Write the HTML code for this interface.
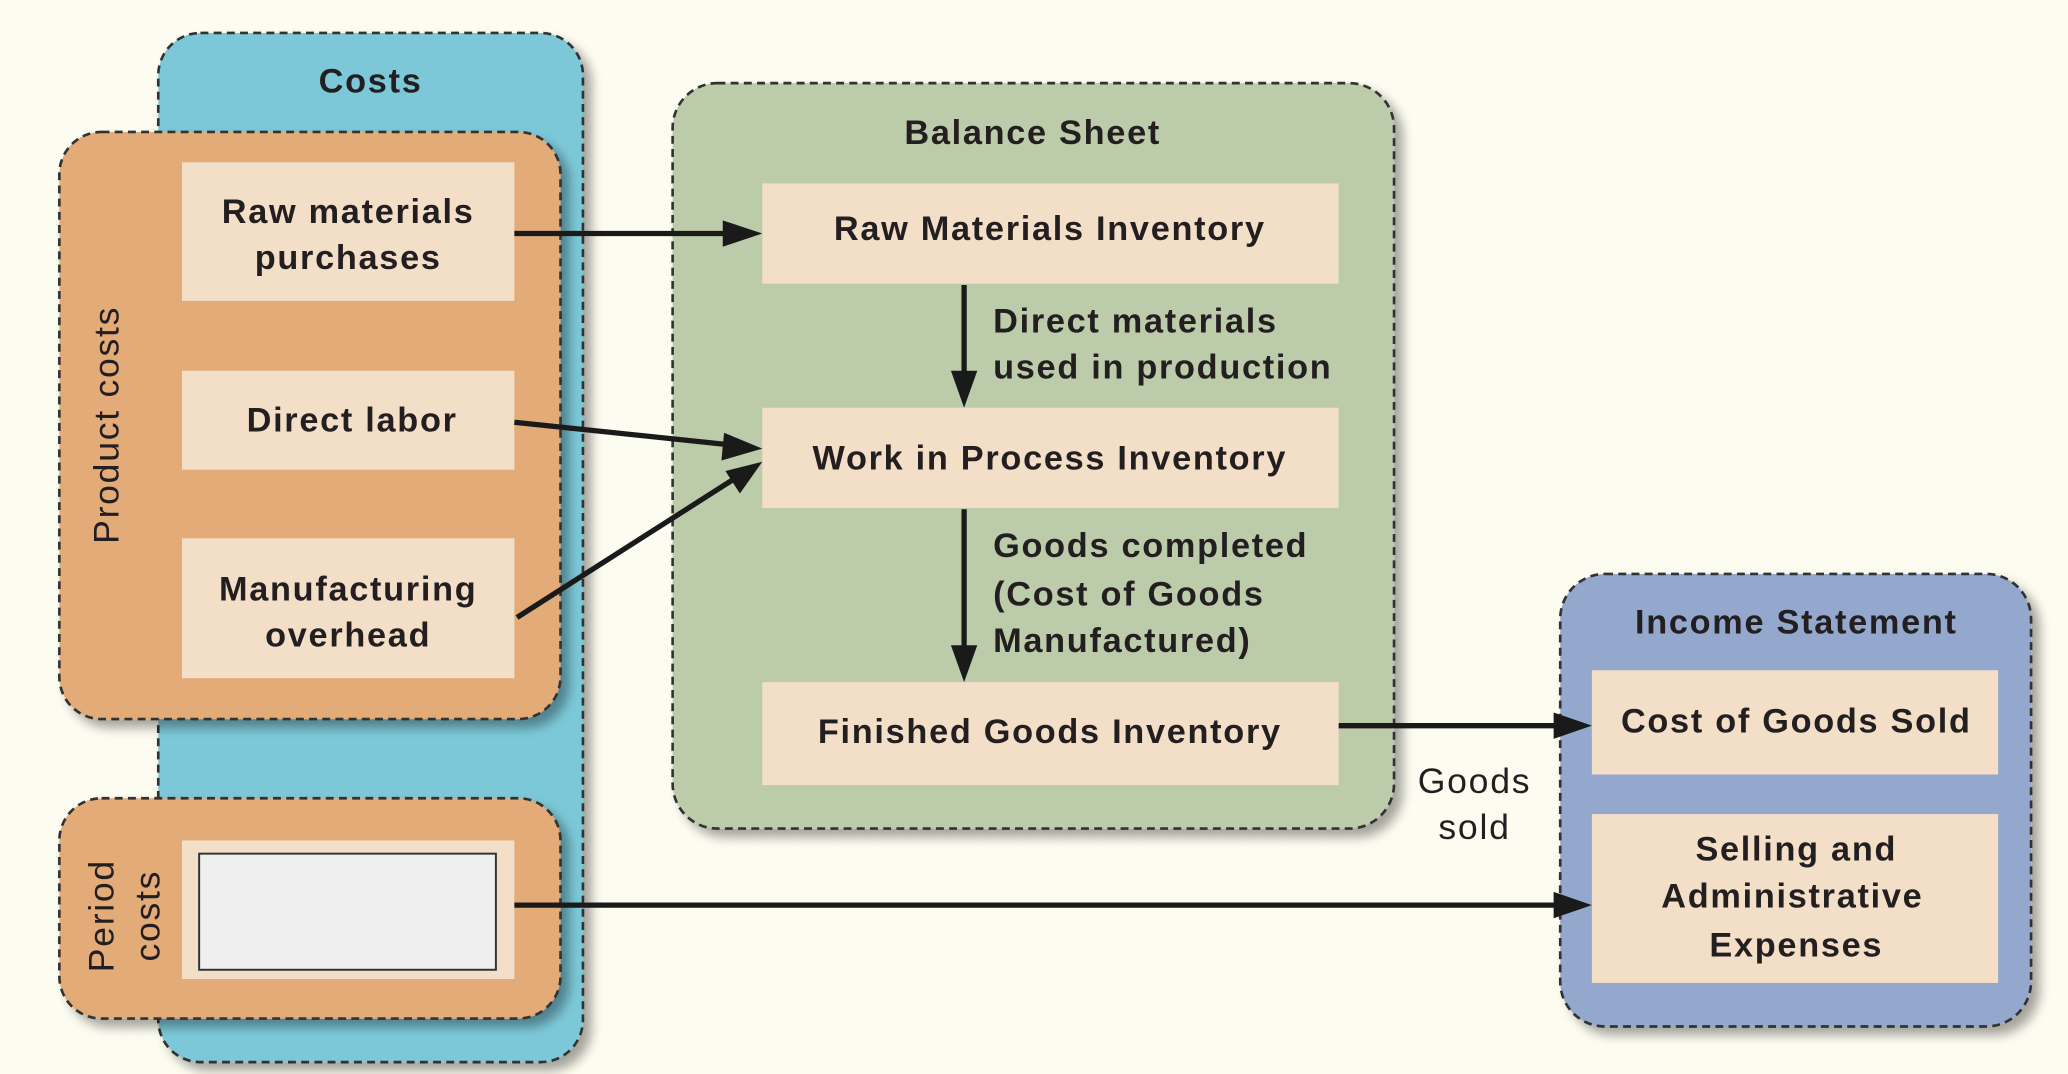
<!DOCTYPE html>
<html><head><meta charset="utf-8"><style>
html,body{margin:0;padding:0;background:#fdfcf0;}
svg{display:block}
text{font-family:"Liberation Sans",Arial,sans-serif;fill:#231f20;}
.b{font-weight:bold;font-size:26px;letter-spacing:1.3px;}
.n{font-size:27px;letter-spacing:1.3px;}
</style></head><body>
<svg width="2068" height="1074" viewBox="0 0 1568 814" preserveAspectRatio="none">
<defs>
<filter id="sh" x="-10%" y="-10%" width="130%" height="130%"><feGaussianBlur in="SourceAlpha" stdDeviation="4"/><feOffset dx="6" dy="6"/><feComponentTransfer><feFuncA type="linear" slope="0.35"/></feComponentTransfer><feMerge><feMergeNode/><feMergeNode in="SourceGraphic"/></feMerge></filter>
</defs>
<rect width="1568" height="814" fill="#fdfcf0"/>
<g stroke="#333" stroke-width="2" stroke-dasharray="6,4">
<rect x="120" y="25" width="322" height="780" rx="32" fill="#7cc8d8" filter="url(#sh)"/>
<rect x="45" y="100" width="380" height="445" rx="32" fill="#e2ab78" filter="url(#sh)"/>
<rect x="45" y="605" width="380" height="167" rx="32" fill="#e2ab78" filter="url(#sh)"/>
<rect x="510" y="63" width="547" height="565" rx="34" fill="#bccbaa" filter="url(#sh)"/>
<rect x="1183" y="435" width="357" height="343" rx="34" fill="#93a8cc" filter="url(#sh)"/>
</g>
<g fill="#f3dfc8">
<rect x="138" y="123" width="252" height="105"/>
<rect x="138" y="281" width="252" height="75"/>
<rect x="138" y="408" width="252" height="106"/>
<rect x="138" y="637" width="252" height="105"/>
<rect x="578" y="139" width="437" height="76"/>
<rect x="578" y="309" width="437" height="76"/>
<rect x="578" y="517" width="437" height="78"/>
<rect x="1207" y="508" width="308" height="79"/>
<rect x="1207" y="617" width="308" height="128"/>
</g>
<rect x="151" y="647" width="225" height="88" fill="#efefef" stroke="#333" stroke-width="1.5"/>
<g stroke="#1a1a1a" stroke-width="4" fill="none">
<line x1="390" y1="177" x2="550" y2="177"/>
<line x1="390" y1="320" x2="552" y2="337"/>
<line x1="392" y1="468" x2="555" y2="364"/>
<line x1="731" y1="216" x2="731" y2="283"/>
<line x1="731" y1="386" x2="731" y2="491"/>
<line x1="1015" y1="550" x2="1180" y2="550"/>
<line x1="390" y1="686" x2="1180" y2="686"/>
</g>
<g fill="#1a1a1a">
<polygon points="578,177 548,167 548,187"/>
<polygon points="578,340 549,328 547,349"/>
<polygon points="578,350 561,374 550,357"/>
<polygon points="731,309 721,281 741,281"/>
<polygon points="731,517 721,489 741,489"/>
<polygon points="1207,550 1178,540 1178,560"/>
<polygon points="1207,686 1178,676 1178,696"/>
</g>
<g class="b" text-anchor="middle">
<text x="281" y="70">Costs</text>
<text x="783" y="109">Balance Sheet</text>
<text x="1362" y="480">Income Statement</text>
<text x="264" y="169">Raw materials</text>
<text x="264" y="204">purchases</text>
<text x="267" y="327">Direct labor</text>
<text x="264" y="455">Manufacturing</text>
<text x="264" y="490">overhead</text>
<text x="796" y="182">Raw Materials Inventory</text>
<text x="796" y="356">Work in Process Inventory</text>
<text x="796" y="563">Finished Goods Inventory</text>
<text x="1362" y="555">Cost of Goods Sold</text>
<text x="1362" y="652">Selling and</text>
<text x="1359" y="688">Administrative</text>
<text x="1362" y="725">Expenses</text>
</g>
<g class="b">
<text x="753" y="252">Direct materials</text>
<text x="753" y="287">used in production</text>
<text x="753" y="422">Goods completed</text>
<text x="753" y="459">(Cost of Goods</text>
<text x="753" y="494">Manufactured)</text>
</g>
<g class="n" text-anchor="middle">
<text x="1118" y="601">Goods</text>
<text x="1118" y="636">sold</text>
<text transform="translate(90,322) rotate(-90)">Product costs</text>
<text transform="translate(86,694) rotate(-90)">Period</text>
<text transform="translate(121,694) rotate(-90)">costs</text>
</g>
</svg>
</body></html>
